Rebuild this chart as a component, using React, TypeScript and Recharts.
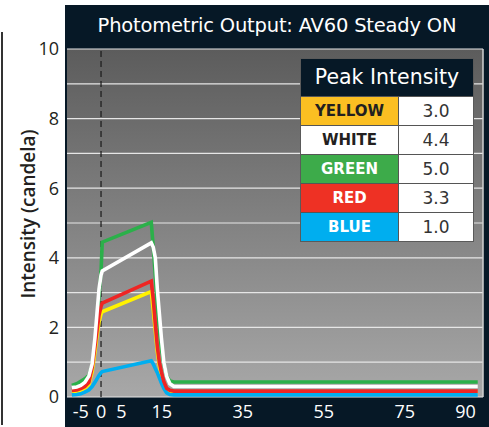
import React from "react";
import { CartesianGrid, Line, LineChart, ReferenceLine, XAxis, YAxis } from "recharts";

// time offset (ms) shared by all five channels
const time = [-7.2, -6, -5, -4, -3, -2.2, -1.5, -1, -0.5, 0, 0.3, 12.4, 12.9, 13.4, 13.9, 14.4, 14.9, 15.5, 16.2, 17, 18, 93];
const green = [0.33, 0.38, 0.45, 0.52, 0.62, 0.9, 1.45, 2.1, 2.9, 3.6, 4.45, 5.02, 4.3, 3.5, 2.6, 1.9, 1.4, 0.95, 0.6, 0.46, 0.43, 0.43];
const white = [0.27, 0.29, 0.33, 0.42, 0.6, 0.95, 1.7, 2.4, 3.1, 3.5, 3.62, 4.43, 4.3, 4.0, 3.1, 2.4, 1.7, 1.0, 0.6, 0.38, 0.3, 0.3];
const red = [0.19, 0.2, 0.24, 0.3, 0.42, 0.85, 1.45, 1.9, 2.35, 2.6, 2.7, 3.33, 2.8, 2.1, 1.45, 1.0, 0.72, 0.45, 0.25, 0.19, 0.17, 0.17];
const yellow = [0.14, 0.16, 0.2, 0.26, 0.36, 0.72, 1.3, 1.75, 2.15, 2.38, 2.45, 3.03, 2.5, 1.9, 1.3, 0.9, 0.62, 0.38, 0.2, 0.14, 0.13, 0.13];
const blue = [0.06, 0.07, 0.09, 0.14, 0.2, 0.3, 0.42, 0.52, 0.62, 0.7, 0.73, 1.04, 0.95, 0.82, 0.7, 0.55, 0.4, 0.25, 0.12, 0.07, 0.06, 0.06];

const xTicks = [-5, 0, 5, 15, 35, 55, 75, 90];
const yTicks = [0, 1, 2, 3, 4, 5, 6, 7, 8, 9, 10];

const peakNames = ["YELLOW", "WHITE", "GREEN", "RED", "BLUE"];
const peakValues = ["3.0", "4.4", "5.0", "3.3", "1.0"];
const peakFills = ["#fbbf22", "#ffffff", "#3dab4a", "#ee3124", "#00aeef"];
const peakInk = ["#231f20", "#231f20", "#ffffff", "#ffffff", "#ffffff"];

const data = time.map((t, i) => ({
  t,
  green: green[i],
  white: white[i],
  red: red[i],
  yellow: yellow[i],
  blue: blue[i],
}));

const FRAME = "#061826";

function PeakTable() {
  return (
    <div
      style={{
        position: "absolute",
        left: 300,
        top: 58,
        width: 172,
        border: "1.5px solid #5a5a5a",
        background: FRAME,
        fontFamily: "DejaVu Sans, sans-serif",
      }}
    >
      <div style={{ height: 37, lineHeight: "37px", color: "#fff", fontSize: 20.5, textAlign: "center" }}>Peak Intensity</div>
      {peakNames.map((name, i) => (
        <div key={name} style={{ display: "flex", height: 28, borderTop: "1px solid #555" }}>
          <div
            style={{
              width: 97,
              background: peakFills[i],
              color: peakInk[i],
              fontWeight: 700,
              fontSize: 15,
              lineHeight: "28px",
              textAlign: "center",
              borderRight: "1px solid #555",
            }}
          >
            {name}
          </div>
          <div style={{ flex: 1, background: "#fff", color: "#333", fontSize: 17, lineHeight: "28px", textAlign: "center" }}>
            {peakValues[i]}
          </div>
        </div>
      ))}
    </div>
  );
}

export default function App() {
  return (
    <div style={{ position: "fixed", left: 0, top: 0, width: 489, height: 427, background: "#fff", overflow: "hidden" }}>
      <div style={{ position: "absolute", left: 1, top: 32, width: 2, height: 393, background: "#333" }} />
      <div style={{ position: "absolute", left: 65, top: 5, width: 424, height: 422, background: FRAME }} />
      <div
        style={{
          position: "absolute",
          left: 65,
          top: 5,
          width: 424,
          height: 42,
          lineHeight: "42px",
          textAlign: "center",
          color: "#fff",
          fontSize: 19.5,
          fontFamily: "DejaVu Sans, sans-serif",
          letterSpacing: -0.2,
        }}
      >
        Photometric Output: AV60 Steady ON
      </div>
      <div
        style={{
          position: "absolute",
          left: 28,
          top: 214,
          transform: "translate(-50%, -50%) rotate(-90deg)",
          whiteSpace: "nowrap",
          fontSize: 19,
          fontWeight: 600,
          color: "#231f20",
          fontFamily: "Open Sans, sans-serif",
        }}
      >
        Intensity (candela)
      </div>
      <div style={{ position: "absolute", left: 0, top: 0 }}>
        <LineChart width={489} height={427} data={data} margin={{ top: 49, right: 6, bottom: 0, left: 0 }}>
          <defs>
            <linearGradient id="plotBg" x1="0" y1="0" x2="0" y2="1">
              <stop offset="0%" stopColor="#5c5c5c" />
              <stop offset="100%" stopColor="#a8a8a8" />
            </linearGradient>
          </defs>
          <CartesianGrid vertical={false} stroke="#e6e6e6" strokeWidth={1.2} fill="url(#plotBg)" fillOpacity={1} />
          <XAxis
            dataKey="t"
            type="number"
            domain={[-8.4, 94.3]}
            allowDataOverflow
            ticks={xTicks}
            interval={0}
            height={30}
            axisLine={false}
            tickLine={false}
            tick={{ fill: "#ffffff", fontSize: 18, fontFamily: "Open Sans, sans-serif" }}
          />
          <YAxis
            type="number"
            domain={[0, 10]}
            ticks={yTicks}
            interval={0}
            width={67}
            axisLine={false}
            tickLine={false}
            tickFormatter={(v: number) => (v % 2 === 0 ? String(v) : "")}
            tick={{ fill: "#231f20", fontSize: 18, fontFamily: "Open Sans, sans-serif" }}
          />
          <ReferenceLine x={94.3} stroke="#d0d0d0" strokeWidth={1.5} />
          <ReferenceLine x={0} stroke="#1a1a1a" strokeWidth={1.2} strokeDasharray="6 4" />
          <Line type="linear" dataKey="green" stroke="#2bb04a" strokeWidth={3.6} dot={false} isAnimationActive={false} />
          <Line type="linear" dataKey="yellow" stroke="#fff200" strokeWidth={3.6} dot={false} isAnimationActive={false} />
          <Line type="linear" dataKey="blue" stroke="#00aeef" strokeWidth={3.6} dot={false} isAnimationActive={false} />
          <Line type="linear" dataKey="red" stroke="#ee2524" strokeWidth={3.6} dot={false} isAnimationActive={false} />
          <Line type="linear" dataKey="white" stroke="#ffffff" strokeWidth={3.6} dot={false} isAnimationActive={false} />
        </LineChart>
      </div>
      <PeakTable />
    </div>
  );
}
